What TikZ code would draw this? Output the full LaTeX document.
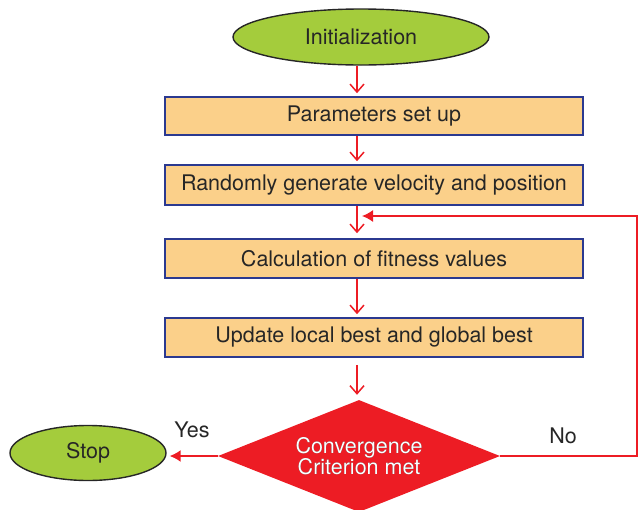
\documentclass[tikz,border=0pt]{standalone}
\usepackage{fontspec}
\setmainfont{TeX Gyre Heros}
\usepackage[outline]{contour}
\usetikzlibrary{shapes.geometric,arrows.meta}
\definecolor{leafgreen}{HTML}{A4CC3C}
\definecolor{boxorange}{HTML}{FBD08A}
\definecolor{boxnavy}{HTML}{2B3990}
\definecolor{flowred}{HTML}{ED1C24}
\contourlength{0.6pt}
\begin{document}
\begin{tikzpicture}[x=1pt, y=-1pt, font=\fontsize{21.5}{24}\selectfont,
	  startstop/.style={ellipse, draw=black!85, line width=1.4pt, fill=leafgreen, inner sep=0pt, text=black!85},
	  procbox/.style={rectangle, draw=boxnavy, line width=1.6pt, fill=boxorange, minimum width=418pt, inner sep=0pt, text=black!85},
	  decision/.style={diamond, aspect=2.52, fill=flowred, inner sep=0pt, minimum width=282pt, minimum height=112pt, align=center},
	  flow/.style={flowred, line width=1.5pt, -{Straight Barb[length=8pt, width=14pt]}},
	  flowback/.style={flowred, line width=1.5pt, -{Latex[length=11pt, width=12pt]}}]
	  \useasboundingbox (0,0) rectangle (640,509);
	  \coordinate (ax) at (357,0);
	  % nodes
	  \node[startstop, minimum width=256pt, minimum height=56pt] (init) at (361,37) {Initialization};
	  \node[procbox, minimum height=38pt] (param) at (374,116) {Parameters set up};
	  \node[procbox, minimum height=40pt] (rand) at (374,185) {Randomly generate velocity and position};
	  \node[procbox, minimum height=39pt] (fit) at (374,258.5) {Calculation of fitness values};
	  \node[procbox, minimum height=39pt] (upd) at (374,337.5) {Update local best and global best};
	  \node[decision] (conv) at (359,456) {\contour{black!80}{\color{white}Convergence}\\[-3pt]\contour{black!80}{\color{white}Criterion met}};
	  \node[startstop, minimum width=156pt, minimum height=55pt] (stop) at (88,453) {Stop};
	  % connectors
	  \draw[flow, shorten >=3pt] (init.south -| ax) -- (param.north -| ax);
	  \draw[flow, shorten >=3pt] (param.south -| ax) -- (rand.north -| ax);
	  \draw[flow, shorten >=5pt] (rand.south -| ax) -- (fit.north -| ax);
	  \draw[flow, shorten >=3pt] (fit.south -| ax) -- (upd.north -| ax);
	  \draw[flow, shorten <=7pt, shorten >=5pt] (upd.south -| ax) -- (conv.north -| ax);
	  \coordinate (back) at (362,216);
	  \draw[flowback] (conv.east) -- (637,0 |- conv.east) -- (637,0 |- back) -- (back);
	  \draw[flowback, shorten >=3pt] (conv.west) -- (conv.west -| stop.east);
	  % labels
	  \node[text=black!85] (yes) at (192,430) {Yes};
	  \node[text=black!85] (no) at (563,436) {No};
	\end{tikzpicture}
\end{document}
